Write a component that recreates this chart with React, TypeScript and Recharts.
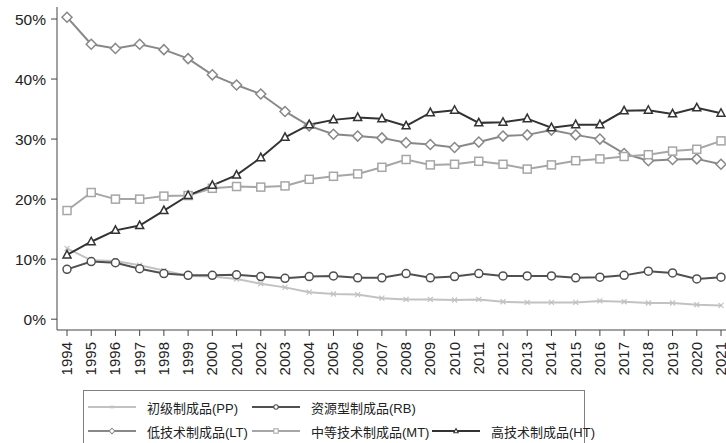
import React from "react";
import { LineChart, Line, XAxis, YAxis } from "recharts";

const years = [
  "1994", "1995", "1996", "1997", "1998", "1999", "2000", "2001", "2002", "2003",
  "2004", "2005", "2006", "2007", "2008", "2009", "2010", "2011", "2012", "2013",
  "2014", "2015", "2016", "2017", "2018", "2019", "2020", "2021",
];

// 初级制成品(PP)
const pp = [
  11.8, 9.8, 9.7, 9.0, 8.1, 7.2, 7.1, 6.7, 5.9, 5.3,
  4.5, 4.2, 4.1, 3.5, 3.3, 3.3, 3.2, 3.3, 2.9, 2.8,
  2.8, 2.8, 3.05, 2.9, 2.7, 2.7, 2.4, 2.3,
];
// 资源型制成品(RB)
const rb = [
  8.3, 9.6, 9.4, 8.4, 7.6, 7.3, 7.3, 7.4, 7.1, 6.8,
  7.1, 7.2, 6.9, 6.9, 7.6, 6.9, 7.1, 7.6, 7.2, 7.2,
  7.2, 6.9, 7.0, 7.3, 8.0, 7.7, 6.7, 7.0,
];
// 低技术制成品(LT)
const lt = [
  50.3, 45.8, 45.1, 45.8, 44.9, 43.4, 40.7, 39.0, 37.5, 34.6,
  32.2, 30.8, 30.5, 30.2, 29.4, 29.1, 28.6, 29.5, 30.5, 30.7,
  31.5, 30.7, 30.0, 27.6, 26.4, 26.6, 26.7, 25.8,
];
// 中等技术制成品(MT)
const mt = [
  18.1, 21.1, 20.0, 20.0, 20.5, 20.6, 21.8, 22.1, 22.0, 22.2,
  23.3, 23.8, 24.2, 25.3, 26.6, 25.7, 25.8, 26.3, 25.8, 25.0,
  25.7, 26.4, 26.7, 27.1, 27.4, 28.0, 28.3, 29.7,
];
// 高技术制成品(HT)
const ht = [
  10.7, 12.9, 14.8, 15.6, 18.1, 20.6, 22.3, 24.0, 26.9, 30.3,
  32.4, 33.2, 33.6, 33.4, 32.2, 34.4, 34.8, 32.7, 32.8, 33.4,
  31.9, 32.4, 32.4, 34.7, 34.8, 34.2, 35.2, 34.3,
];

const yTicks = [0, 10, 20, 30, 40, 50];

const data = years.map((year, i) => ({
  year,
  pp: pp[i],
  rb: rb[i],
  lt: lt[i],
  mt: mt[i],
  ht: ht[i],
}));

const series = [
  { key: "pp", name: "初级制成品(PP)", color: "#c2c2c2", shape: "cross" },
  { key: "rb", name: "资源型制成品(RB)", color: "#505050", shape: "circle" },
  { key: "lt", name: "低技术制成品(LT)", color: "#888888", shape: "diamond" },
  { key: "mt", name: "中等技术制成品(MT)", color: "#a6a6a6", shape: "square" },
  { key: "ht", name: "高技术制成品(HT)", color: "#333333", shape: "triangle" },
];

const FONT = "'Liberation Sans', Arial, 'Noto Sans CJK SC', sans-serif";

function marker(shape: string, color: string, cx: number, cy: number, s = 1, key?: any) {
  const common = { fill: "#fff", stroke: color, strokeWidth: 1.5 * Math.max(s, 0.7) };
  switch (shape) {
    case "circle":
      return <circle key={key} cx={cx} cy={cy} r={4 * s} {...common} />;
    case "diamond":
      return (
        <polygon
          key={key}
          points={`${cx},${cy - 5 * s} ${cx + 5 * s},${cy} ${cx},${cy + 5 * s} ${cx - 5 * s},${cy}`}
          {...common}
        />
      );
    case "square":
      return <rect key={key} x={cx - 4 * s} y={cy - 4 * s} width={8 * s} height={8 * s} {...common} />;
    case "triangle":
      return (
        <polygon
          key={key}
          points={`${cx},${cy - 4.5 * s} ${cx + 4 * s},${cy + 3 * s} ${cx - 4 * s},${cy + 3 * s}`}
          {...common}
        />
      );
    default:
      return (
        <path
          key={key}
          d={`M${cx - 2.5 * s},${cy - 2.5 * s}L${cx + 2.5 * s},${cy + 2.5 * s}M${cx - 2.5 * s},${cy + 2.5 * s}L${cx + 2.5 * s},${cy - 2.5 * s}`}
          stroke={color}
          strokeWidth={1.2}
          fill="none"
        />
      );
  }
}

const makeDot = (shape: string, color: string) => (props: any) => {
  const { cx, cy, index } = props;
  if (cx == null || cy == null) return <g key={index} />;
  return marker(shape, color, cx, cy, 1, index);
};

const YearTick = (props: any) => {
  const { x, y, payload } = props;
  return (
    <g transform={`translate(${x},${y})`}>
      <text
        transform="rotate(-90)"
        x={0}
        y={0}
        dy={5}
        textAnchor="end"
        fontSize={15}
        fontFamily={FONT}
        fill="#222"
      >
        {payload.value}
      </text>
    </g>
  );
};

const legendPos = [
  { left: 4, top: 6 },
  { left: 168, top: 6 },
  { left: 4, top: 30 },
  { left: 168, top: 30 },
  { left: 348, top: 30 },
];

function Legend() {
  return (
    <div
      style={{
        position: "absolute",
        left: 83,
        top: 390,
        width: 502,
        height: 60,
        border: "1px solid #808080",
        boxSizing: "border-box",
      }}
    >
      {series.map((s, i) => (
        <div
          key={s.key}
          style={{
            position: "absolute",
            left: legendPos[i].left,
            top: legendPos[i].top,
            height: 20,
            display: "flex",
            alignItems: "center",
            fontFamily: FONT,
            fontSize: 13,
            color: "#222",
            whiteSpace: "nowrap",
          }}
        >
          <svg width={48} height={20} style={{ marginRight: 11 }}>
            <line x1={0} y1={10} x2={48} y2={10} stroke={s.color} strokeWidth={1.8} />
            {marker(s.shape, s.color, 24, 10, 0.55)}
          </svg>
          {s.name}
        </div>
      ))}
    </div>
  );
}

export default function App() {
  return (
    <div style={{ position: "relative", width: 726, height: 443, background: "#fff", overflow: "hidden" }}>
      <style>{`body{margin:0}`}</style>
      <LineChart
        width={726}
        height={443}
        data={data}
        margin={{ top: 7, right: 0, bottom: 0, left: 0 }}
      >
        <XAxis
          dataKey="year"
          interval={0}
          tick={<YearTick />}
          tickSize={6}
          tickMargin={6}
          height={113}
          padding={{ left: 10, right: 5 }}
          stroke="#444"
          tickLine={{ stroke: "#444" }}
        />
        <YAxis
          width={57}
          domain={[-1.8, 52]}
          ticks={yTicks}
          allowDataOverflow
          tickFormatter={(v: number) => `${v}%`}
          tick={{ fontSize: 15.5, fontFamily: FONT, fill: "#222" }}
          tickSize={6}
          tickMargin={5}
          stroke="#444"
          tickLine={{ stroke: "#444" }}
        />
        {series.map((s) => (
          <Line
            key={s.key}
            type="linear"
            dataKey={s.key}
            name={s.name}
            stroke={s.color}
            strokeWidth={2}
            dot={makeDot(s.shape, s.color)}
            activeDot={false}
            isAnimationActive={false}
          />
        ))}
      </LineChart>
      <Legend />
    </div>
  );
}
